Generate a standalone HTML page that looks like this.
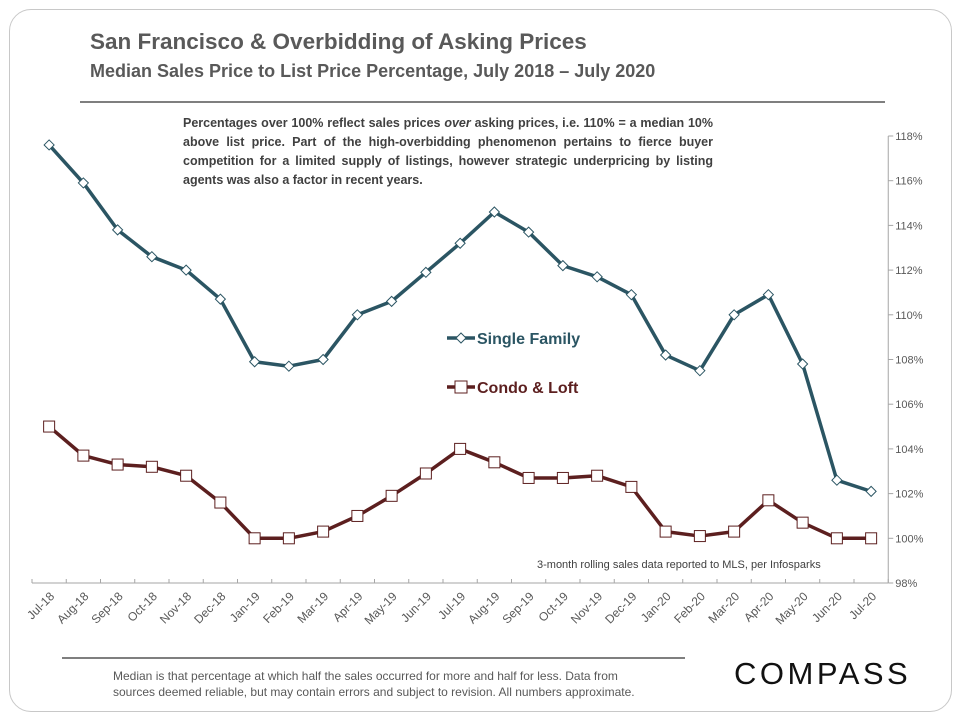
<!DOCTYPE html>
<html><head><meta charset="utf-8"><style>
body{margin:0;background:#fff;font-family:"Liberation Sans",sans-serif;}
#frame{position:absolute;left:9px;top:9px;width:941px;height:701px;border:1px solid #c8c8c8;border-radius:22px;}
.t{position:absolute;color:#595959;}
</style></head><body>
<div id="frame"></div>
<div class="t" style="left:90px;top:29px;font-size:22.5px;font-weight:bold;">San Francisco &amp; Overbidding of Asking Prices</div>
<div class="t" style="left:90px;top:61px;font-size:18px;font-weight:bold;">Median Sales Price to List Price Percentage, July 2018 – July 2020</div>
<div style="position:absolute;left:80px;top:101px;width:805px;height:2px;background:#7f7f7f;"></div>
<div class="t" style="left:183px;top:114px;width:530px;font-size:12.5px;font-weight:bold;line-height:19px;text-align:justify;color:#404040;">Percentages over 100% reflect sales prices <i>over</i> asking prices, i.e. 110% = a median 10% above list price. Part of the high-overbidding phenomenon pertains to fierce buyer competition for a limited supply of listings, however strategic underpricing by listing agents was also a factor in recent years.</div>
<div class="t" style="left:537px;top:559px;font-size:11px;color:#404040;">3-month rolling sales data reported to MLS, per Infosparks</div>
<div style="position:absolute;left:62px;top:657px;width:623px;height:2px;background:#7f7f7f;"></div>
<div class="t" style="left:113px;top:668px;font-size:12px;line-height:16px;">Median is that percentage at which half the sales occurred for more and half for less. Data from<br>sources deemed reliable, but may contain errors and subject to revision. All numbers approximate.</div>
<div class="t" style="left:734px;top:656px;font-size:31px;letter-spacing:3.5px;color:#111;">COMPASS</div>
<svg id="chart" width="960" height="720" style="position:absolute;left:0;top:0;"></svg>
<script>
const categories=["Jul-18","Aug-18","Sep-18","Oct-18","Nov-18","Dec-18","Jan-19","Feb-19","Mar-19","Apr-19","May-19","Jun-19","Jul-19","Aug-19","Sep-19","Oct-19","Nov-19","Dec-19","Jan-20","Feb-20","Mar-20","Apr-20","May-20","Jun-20","Jul-20"];
const singleFamily=[117.6,115.9,113.8,112.6,112.0,110.7,107.9,107.7,108.0,110.0,110.6,111.9,113.2,114.6,113.7,112.2,111.7,110.9,108.2,107.5,110.0,110.9,107.8,102.6,102.1];
const condoLoft=[105.0,103.7,103.3,103.2,102.8,101.6,100.0,100.0,100.3,101.0,101.9,102.9,104.0,103.4,102.7,102.7,102.8,102.3,100.3,100.1,100.3,101.7,100.7,100.0,100.0];
const yTicks=[98,100,102,104,106,108,110,112,114,116,118];
const svg=document.getElementById('chart');
const NS='http://www.w3.org/2000/svg';
const X0=32,STEP=34.25,Y0=583,Y1=136,VMIN=98,VMAX=118;
const xs=i=>X0+STEP*(i+0.5);
const ys=v=>Y0-(v-VMIN)/(VMAX-VMIN)*(Y0-Y1);
function mk(tag,attrs){const e=document.createElementNS(NS,tag);for(const k in attrs)e.setAttribute(k,attrs[k]);svg.appendChild(e);return e;}
const xr=X0+STEP*categories.length;
let ax=mk('line',{x1:X0,x2:xr,y1:Y0,y2:Y0,stroke:'#a6a6a6'});


let ay=mk('line',{x1:xr,x2:xr,y1:Y1,y2:Y0,stroke:'#a6a6a6'});


for(let i=0;i<=categories.length;i++){mk('line',{x1:X0+STEP*i,x2:X0+STEP*i,y1:Y0-4,y2:Y0,stroke:'#a6a6a6'});}
categories.forEach((c,i)=>{
 const x=xs(i)+6,y=Y0+14;
 const t=mk('text',{x:x,y:y,'font-size':12,fill:'#595959','text-anchor':'end',transform:`rotate(-45 ${x} ${y})`,'font-family':'Liberation Sans'});
 t.textContent=c;
 
 
});
yTicks.forEach(v=>{
 mk('line',{x1:xr,x2:xr+5,y1:ys(v),y2:ys(v),stroke:'#a6a6a6'});
 const t=mk('text',{x:xr+7,y:ys(v)+4,'font-size':11,fill:'#595959','font-family':'Liberation Sans'});
 t.textContent=v+'%';
 
 
});
function series(vals,color,marker,name){
 const p=mk('polyline',{points:vals.map((v,i)=>xs(i)+','+ys(v)).join(' '),fill:'none',stroke:color,'stroke-width':3.5,'stroke-linejoin':'round'});
 
 
 vals.forEach((v,i)=>{
  let m;
  if(marker==='diamond'){const x=xs(i),y=ys(v);m=mk('polygon',{points:`${x},${y-5} ${x+5},${y} ${x},${y+5} ${x-5},${y}`,fill:'#fff',stroke:color,'stroke-width':1});}
  else{m=mk('rect',{x:xs(i)-5.5,y:ys(v)-5.5,width:11,height:11,fill:'#fff',stroke:color,'stroke-width':1});}
  
  
 });
}
series(singleFamily,'#2b5563','diamond','single-family');
series(condoLoft,'#5c1f1f','square','condo-loft');
function legend(y,color,marker,label,name){
 const g=mk('g',{});
 
 
 const r=document.createElementNS(NS,'rect');r.setAttribute('x',418);r.setAttribute('y',y-18);r.setAttribute('width',170);r.setAttribute('height',34);r.setAttribute('fill','#fff');g.appendChild(r);
 const l=document.createElementNS(NS,'line');l.setAttribute('x1',447);l.setAttribute('x2',475);l.setAttribute('y1',y);l.setAttribute('y2',y);l.setAttribute('stroke',color);l.setAttribute('stroke-width',3.5);g.appendChild(l);
 let m;
 if(marker==='diamond'){m=document.createElementNS(NS,'polygon');m.setAttribute('points',`461,${y-5} 466,${y} 461,${y+5} 456,${y}`);}
 else{m=document.createElementNS(NS,'rect');m.setAttribute('x',455);m.setAttribute('y',y-6);m.setAttribute('width',12);m.setAttribute('height',12);}
 m.setAttribute('fill','#fff');m.setAttribute('stroke',color);g.appendChild(m);
 const t=document.createElementNS(NS,'text');t.setAttribute('x',477);t.setAttribute('y',y+6);t.setAttribute('font-size',16);t.setAttribute('font-weight','bold');t.setAttribute('fill',color);t.setAttribute('font-family','Liberation Sans');t.textContent=label;g.appendChild(t);
}
legend(338,'#2b5563','diamond','Single Family','legend-single-family');
legend(387,'#5c1f1f','square','Condo & Loft','legend-condo-loft');
</script>
</body></html>
